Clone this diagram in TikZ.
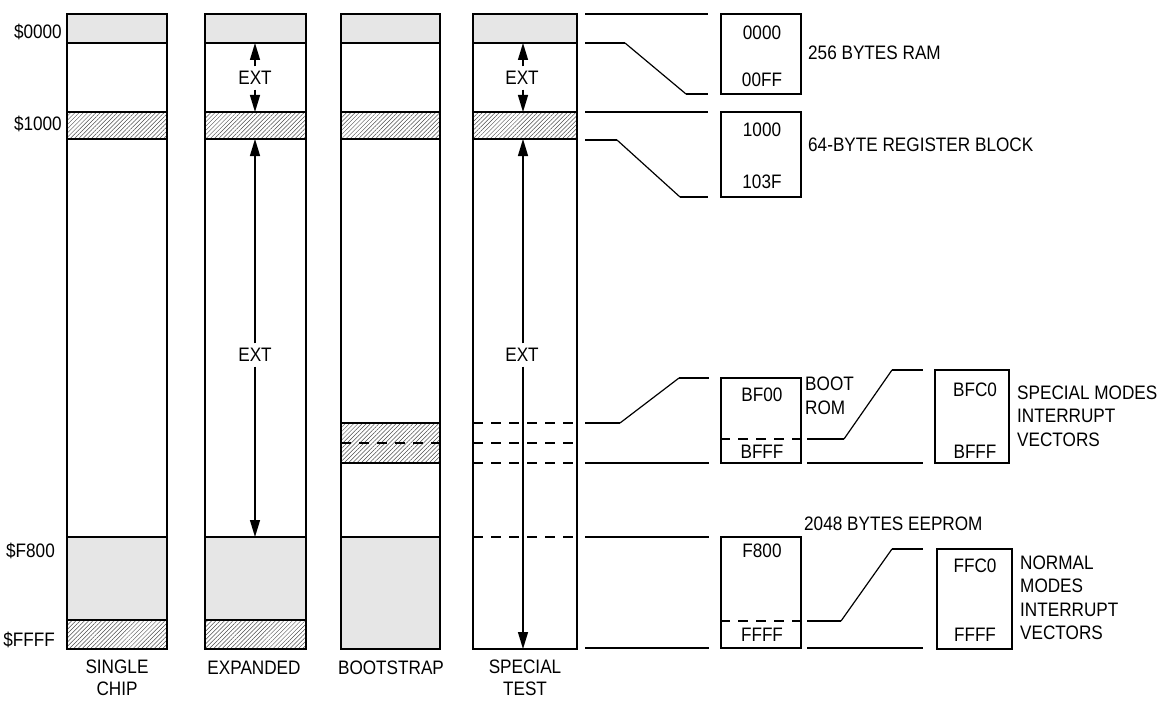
\documentclass[tikz,border=0pt]{standalone}
\usepackage{fontspec}
\setmainfont{Liberation Sans}[FakeStretch=0.88]
\usetikzlibrary{arrows.meta,patterns.meta}
\definecolor{memgrey}{HTML}{E6E6E6}
\begin{document}
\begin{tikzpicture}[x=1pt,y=-1pt,
  txt/.style={font=\fontsize{19.5}{23.5}\selectfont, inner sep=0pt, text=black},
  greyblk/.style={fill=memgrey, draw=black, line width=2pt},
  hatchblk/.style={pattern={Lines[angle=45,distance=3pt,line width=0.5pt]}, pattern color=black!70, draw=black, line width=2pt},
  colframe/.style={draw=black, line width=2pt},
  dashln/.style={line width=2pt, dash pattern=on 10pt off 8pt},
  wire/.style={line width=2pt},
  slant/.style={line width=1.2pt},
  arr/.style={line width=1.3pt, -{Triangle[length=17pt,width=10pt]}},
  extlbl/.style={txt, outer sep=5pt},
  membox/.style={draw=black, line width=2pt, inner sep=0pt}
]
\useasboundingbox (0,0) rectangle (1160,701);

% ---------- column 1: SINGLE CHIP ----------
\path[greyblk] (67,14) rectangle (167,43);
\path[hatchblk] (67,112) rectangle (167,139);
\path[greyblk] (67,537) rectangle (167,620);
\path[hatchblk] (67,620) rectangle (167,649);
\draw[colframe] (67,14) rectangle (167,649);

% ---------- column 2: EXPANDED ----------
\path[greyblk] (205,14) rectangle (306,43);
\path[hatchblk] (205,112) rectangle (306,139);
\path[greyblk] (205,537) rectangle (306,620);
\path[hatchblk] (205,620) rectangle (306,649);
\draw[colframe] (205,14) rectangle (306,649);

% ---------- column 3: BOOTSTRAP ----------
\path[greyblk] (341,14) rectangle (440,43);
\path[hatchblk] (341,112) rectangle (440,139);
\path[hatchblk] (341,423) rectangle (440,463);
\draw[dashln] (341,443) -- (440,443);
\path[greyblk] (341,537) rectangle (440,649);
\draw[colframe] (341,14) rectangle (440,649);

% ---------- column 4: SPECIAL TEST ----------
\path[greyblk] (473,14) rectangle (577,43);
\path[hatchblk] (473,112) rectangle (577,139);
\draw[dashln] (473,423) -- (577,423);
\draw[dashln] (473,443) -- (577,443);
\draw[dashln] (473,463) -- (577,463);
\draw[dashln] (473,537) -- (577,537);
\draw[colframe] (473,14) rectangle (577,649);

% ---------- address labels ----------
\node[txt, anchor=east] (a0000) at (62,32) {\$0000};
\node[txt, anchor=east] (a1000) at (62,124) {\$1000};
\node[txt, anchor=east] (aF800) at (55,551) {\$F800};
\node[txt, anchor=east] (aFFFF) at (55,640) {\$FFFF};

% ---------- mode labels ----------
\node[txt, align=center, font=\fontsize{19.5}{22}\selectfont] (lsingle) at (117,678) {SINGLE\\CHIP};
\node[txt] (lexp) at (254,668) {EXPANDED};
\node[txt] (lboot) at (391,668) {BOOTSTRAP};
\node[txt, align=center, font=\fontsize{19.5}{22}\selectfont] (lspec) at (525,678) {SPECIAL\\TEST};

% ---------- EXT arrows ----------
\coordinate (e2top) at (255,43);
\coordinate (e2reg) at (255,112);
\coordinate (e2regb) at (255,139);
\coordinate (e2rom) at (255,537);
\node[extlbl] (ext2a) at (255,78) {EXT};
\draw[arr] (ext2a.north) -- (e2top);
\draw[arr] (ext2a.south) -- (e2reg);
\node[extlbl] (ext2b) at (255,355) {EXT};
\draw[arr] (ext2b.north) -- (e2regb);
\draw[arr] (ext2b.south) -- (e2rom);

\coordinate (e4top) at (523,43);
\coordinate (e4reg) at (523,112);
\coordinate (e4regb) at (523,139);
\coordinate (e4end) at (523,649);
\node[extlbl] (ext4a) at (522,78) {EXT};
\draw[arr] (ext4a.north -| e4top) -- (e4top);
\draw[arr] (ext4a.south -| e4top) -- (e4reg);
\node[extlbl] (ext4b) at (522,355) {EXT};
\draw[arr] (ext4b.north -| e4top) -- (e4regb);
\draw[arr] (ext4b.south -| e4top) -- (e4end);

% ---------- expansion lines from column 4 ----------
\draw[wire] (585,14) -- (708,14);
\draw[wire] (585,43) -- (625,43);
\draw[slant] (625,43) -- (686,94);
\draw[wire] (686,94) -- (708,94);
\draw[wire] (585,112) -- (708,112);
\draw[wire] (585,140) -- (617,140);
\draw[slant] (617,140) -- (680,197);
\draw[wire] (680,197) -- (708,197);

\draw[wire] (585,423) -- (620,423);
\draw[slant] (620,423) -- (679,378);
\draw[wire] (679,378) -- (709,378);
\draw[wire] (585,463) -- (709,463);
\draw[wire] (585,537) -- (709,537);
\draw[wire] (585,648) -- (709,648);

% ---------- RAM ----------
\node[membox, minimum width=80pt, minimum height=80pt] (ram) at (761,54) {};
\node[txt] (ram0) at (762,33) {0000};
\node[txt] (ram1) at (762,80) {00FF};
\node[txt, anchor=west] (ramlbl) at (808,53) {256 BYTES RAM};

% ---------- register block ----------
\node[membox, minimum width=80pt, minimum height=85pt] (reg) at (761,154.5) {};
\node[txt] (reg0) at (762,130) {1000};
\node[txt] (reg1) at (762,182) {103F};
\node[txt, anchor=west] (reglbl) at (808,145) {64-BYTE REGISTER BLOCK};

% ---------- boot ROM ----------
\node[membox, minimum width=80pt, minimum height=85pt] (brom) at (761,420.5) {};
\draw[dashln] (brom.west |- 0,439) -- (brom.east |- 0,439);
\node[txt] (brom0) at (762,395) {BF00};
\node[txt] (brom1) at (762,452) {BFFF};
\node[txt, anchor=west, align=left] (bromlbl) at (805,396) {BOOT\\ROM};

\draw[wire] (807,439) -- (844,439);
\draw[slant] (844,439) -- (892,370);
\draw[wire] (892,370) -- (923,370);
\draw[wire] (807,463) -- (923,463);

\node[membox, minimum width=74pt, minimum height=93pt] (svec) at (972,416.5) {};
\node[txt] (svec0) at (975,390) {BFC0};
\node[txt] (svec1) at (975,452) {BFFF};
\node[txt, anchor=west, align=left] (sveclbl) at (1017,416) {SPECIAL MODES\\INTERRUPT\\VECTORS};

% ---------- EEPROM ----------
\node[txt, anchor=west] (eelbl) at (804,524) {2048 BYTES EEPROM};
\node[membox, minimum width=80pt, minimum height=111pt] (eep) at (761,592.5) {};
\draw[dashln] (eep.west |- 0,621) -- (eep.east |- 0,621);
\node[txt] (eep0) at (762,551) {F800};
\node[txt] (eep1) at (762,635) {FFFF};

\draw[wire] (807,621) -- (841,621);
\draw[slant] (841,621) -- (892,549);
\draw[wire] (892,549) -- (923,549);
\draw[wire] (807,648) -- (923,648);

\node[membox, minimum width=75pt, minimum height=100pt] (nvec) at (974.5,599) {};
\node[txt] (nvec0) at (975,566) {FFC0};
\node[txt] (nvec1) at (975,635) {FFFF};
\node[txt, anchor=west, align=left] (nveclbl) at (1020,598) {NORMAL\\MODES\\INTERRUPT\\VECTORS};
\end{tikzpicture}
\end{document}
